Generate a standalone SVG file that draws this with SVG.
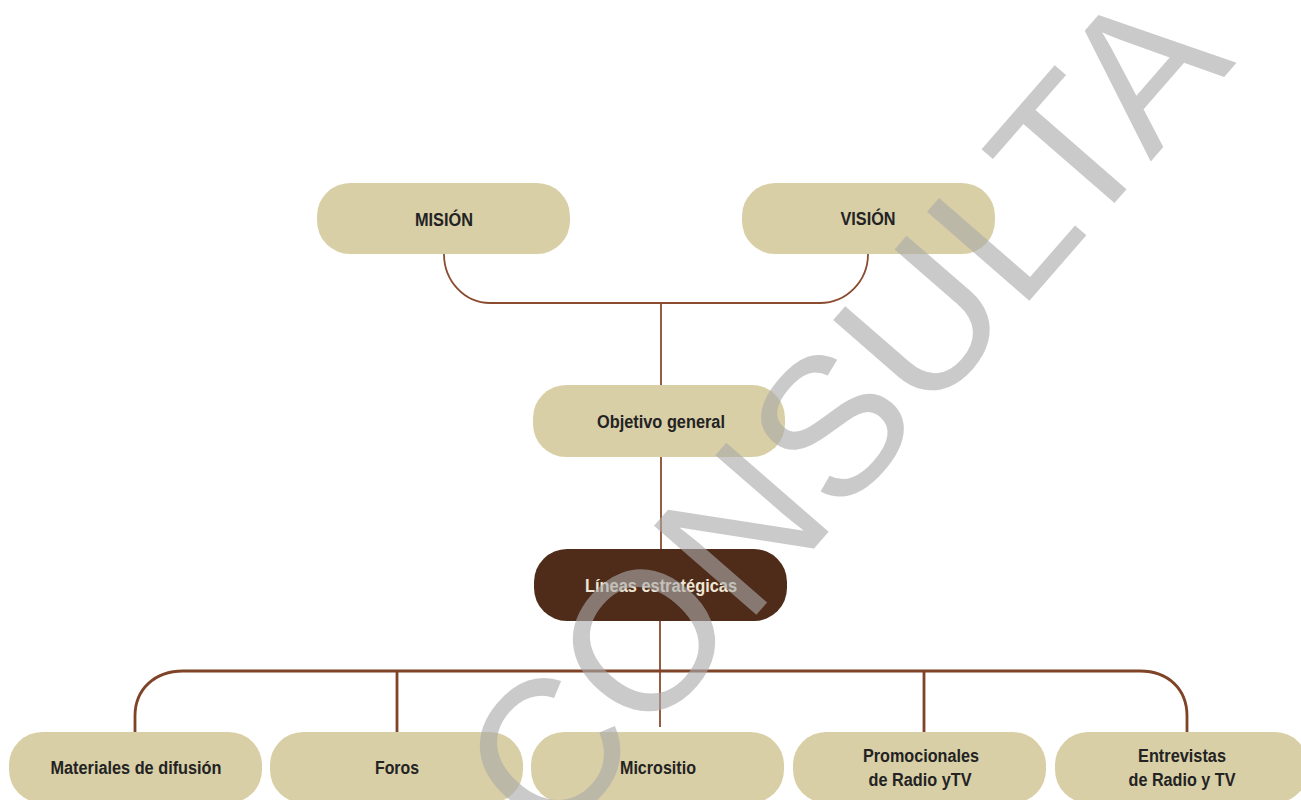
<svg xmlns="http://www.w3.org/2000/svg" width="1301" height="800" viewBox="0 0 1301 800">
<style>
.n{fill:#d9cfa7}
.d{fill:#4f2b19}
.t{font-family:"Liberation Sans",Arial,sans-serif;font-weight:bold;font-size:18px;fill:#232323;text-anchor:middle}
.tl{fill:#efe6d6}
.c{fill:none;stroke:#8a4b2e;stroke-width:1.8}
.cb{fill:none;stroke:#7f4328;stroke-width:2.8}
.wm{font-family:"Liberation Sans",Arial,sans-serif;font-size:197px;fill:#aaaaaa;fill-opacity:0.62}
</style>
<rect width="1301" height="800" fill="#ffffff"/>
<g id="connectors">
<path class="c" d="M444,254 A46,49 0 0 0 490,303 H820 A48,49 0 0 0 868,254"/>
<path class="c" d="M661,303 V385"/>
<path class="c" d="M661,457 V549"/>
<path class="c" d="M660,621 V727"/>
<path class="cb" d="M135,732 V716 C135,689 155,671 183,671 H1140 C1168,671 1187,689 1187,716 V732"/>
<path class="cb" d="M397,671 V732"/>
<path class="cb" d="M924,671 V732"/>
</g>
<g id="mision"><rect class="n" x="317" y="183" width="253" height="71" rx="33"/><text class="t" x="444" y="226" textLength="58" lengthAdjust="spacingAndGlyphs">MISIÓN</text></g>
<g id="vision"><rect class="n" x="742" y="183" width="253" height="71" rx="33"/><text class="t" x="868" y="225" textLength="55" lengthAdjust="spacingAndGlyphs">VISIÓN</text></g>
<g id="objetivo"><rect class="n" x="533" y="385" width="252" height="72" rx="33"/><text class="t" x="661" y="428" textLength="128" lengthAdjust="spacingAndGlyphs">Objetivo general</text></g>
<g id="lineas"><rect class="d" x="534" y="549" width="253" height="72" rx="33"/><text class="t tl" x="661" y="592" textLength="152" lengthAdjust="spacingAndGlyphs">Líneas estratégicas</text></g>
<g id="materiales"><rect class="n" x="9" y="732" width="253" height="71" rx="33"/><text class="t" x="136" y="774" textLength="171" lengthAdjust="spacingAndGlyphs">Materiales de difusión</text></g>
<g id="foros"><rect class="n" x="270" y="732" width="253" height="71" rx="33"/><text class="t" x="397" y="774" textLength="44" lengthAdjust="spacingAndGlyphs">Foros</text></g>
<g id="micrositio"><rect class="n" x="531" y="732" width="253" height="71" rx="33"/><text class="t" x="658" y="774" textLength="76" lengthAdjust="spacingAndGlyphs">Micrositio</text></g>
<g id="promocionales"><rect class="n" x="793" y="732" width="253" height="71" rx="33"/><text class="t" x="921" y="762" textLength="116" lengthAdjust="spacingAndGlyphs">Promocionales</text><text class="t" x="920" y="786" textLength="103" lengthAdjust="spacingAndGlyphs">de Radio yTV</text></g>
<g id="entrevistas"><rect class="n" x="1055" y="732" width="253" height="71" rx="33"/><text class="t" x="1182" y="762" textLength="88" lengthAdjust="spacingAndGlyphs">Entrevistas</text><text class="t" x="1182" y="786" textLength="107" lengthAdjust="spacingAndGlyphs">de Radio y TV</text></g>
<g id="watermark"><text class="wm" transform="translate(552,850) rotate(-49)">CONSULTA</text></g>
</svg>
